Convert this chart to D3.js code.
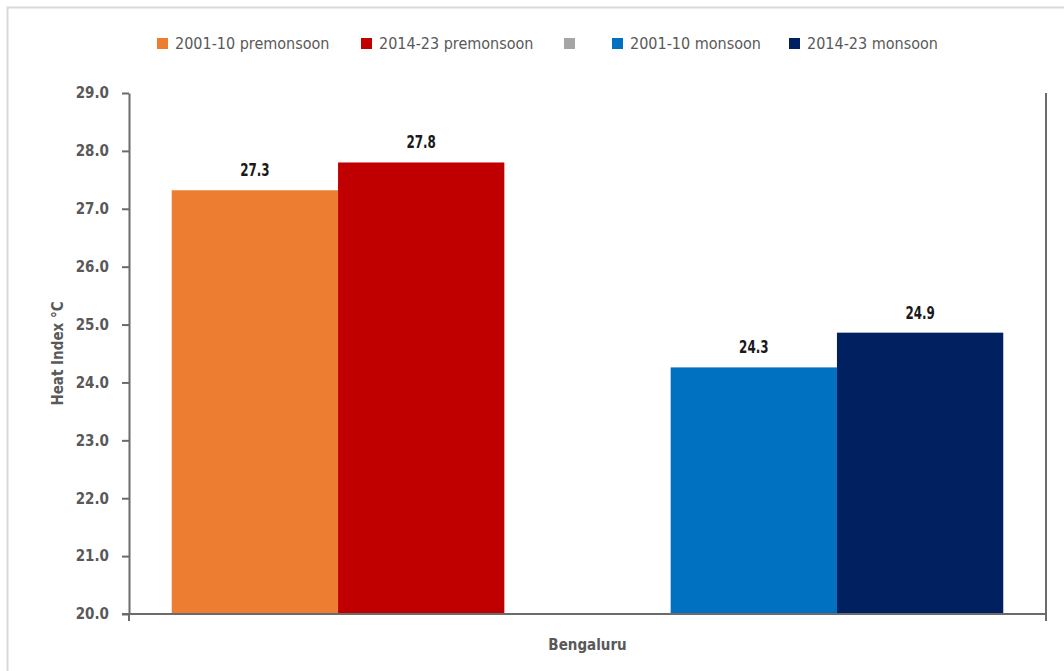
<!DOCTYPE html>
<html><head>
<meta charset="utf-8">
<script src="https://d3js.org/d3.v7.min.js"></script>
<style>
  body { margin: 0; background: #fff; }
  svg text { font-family: "DejaVu Sans Condensed", "Liberation Sans Narrow", "Roboto", sans-serif; }
  .axis .domain, .axis line { stroke: #6b6b6b; stroke-width: 2; }
  .axis text { fill: #595959; font-size: 15px; font-weight: bold; }
</style>
</head>
<body>
<svg id="chart" width="1064" height="671"></svg>
<script>
  // data
  const categories = ["Bengaluru"];
  const seriesNames = ["2001-10 premonsoon", "2014-23 premonsoon", "", "2001-10 monsoon", "2014-23 monsoon"];
  const seriesColors = ["#ed7d31", "#c00000", "#a5a5a5", "#0070c0", "#002060"];
  const seriesValues = [27.32, 27.8, null, 24.26, 24.86];
  const yTicks = [20, 21, 22, 23, 24, 25, 26, 27, 28, 29];

  const svg = d3.select("#chart");
  const margin = {top: 93, right: 18, bottom: 57, left: 129};
  const width = +svg.attr("width");
  const height = +svg.attr("height");
  const chartWidth = width - margin.left - margin.right;
  const chartHeight = height - margin.top - margin.bottom;

  // outer frame (right/bottom edges fall outside the picture)
  svg.append("rect")
    .attr("x", 7.5).attr("y", 7.5)
    .attr("width", width + 20).attr("height", height + 20)
    .attr("fill", "none").attr("stroke", "#d9d9d9").attr("stroke-width", 2);

  const yScale = d3.scaleLinear().domain([20, 29]).range([chartHeight, 0]);
  const catScale = d3.scaleBand().domain(categories).range([0, chartWidth]);
  const seriesScale = d3.scaleBand().domain(d3.range(seriesNames.length))
    .range([0, catScale.bandwidth()]).paddingInner(0).paddingOuter(0.257);

  const chartArea = svg.append("g")
    .attr("transform", "translate(" + margin.left + "," + margin.top + ")");

  // bars
  categories.forEach(c => {
    seriesValues.forEach((v, i) => {
      if (v === null) return;
      const cx = catScale(c) + seriesScale(i) + seriesScale.bandwidth() / 2;
      chartArea.append("rect")
        .attr("x", catScale(c) + seriesScale(i))
        .attr("y", yScale(v))
        .attr("width", seriesScale.bandwidth())
        .attr("height", yScale(20) - yScale(v))
        .attr("fill", seriesColors[i]);
      // condensed look: squeeze the label horizontally
      chartArea.append("text")
        .attr("transform", "translate(" + cx + "," + (yScale(v) - 14) + ") scale(0.78,1)")
        .attr("text-anchor", "middle")
        .attr("fill", "#1a1a1a")
        .attr("font-size", "17px")
        .attr("font-weight", "bold")
        .text(d3.format(".1f")(v));
    });
  });

  // y axis
  const leftAxis = d3.axisLeft(yScale).tickValues(yTicks)
    .tickFormat(d3.format(".1f")).tickSize(7).tickPadding(13).tickSizeOuter(0);
  chartArea.append("g").attr("class", "y axis").call(leftAxis);

  // x axis
  const bottomAxis = d3.axisBottom(catScale).tickSize(0).tickPadding(25).tickSizeOuter(0);
  const xAxis = chartArea.append("g").attr("class", "x axis")
    .attr("transform", "translate(0," + chartHeight + ")")
    .call(bottomAxis);
  xAxis.select(".domain").remove();
  xAxis.append("line")
    .attr("x1", -7).attr("x2", chartWidth)
    .attr("y1", 0).attr("y2", 0);
  catScale.range().forEach(x => {
    xAxis.append("line").attr("x1", x).attr("x2", x).attr("y1", 0).attr("y2", 7);
  });
  // right edge line
  chartArea.append("line").attr("class", "edge")
    .attr("x1", chartWidth).attr("x2", chartWidth)
    .attr("y1", 0).attr("y2", chartHeight + 7)
    .attr("stroke", "#6b6b6b").attr("stroke-width", 2);

  // y axis title
  svg.append("text")
    .attr("transform", "translate(63," + (margin.top + chartHeight / 2) + ") rotate(-90)")
    .attr("text-anchor", "middle")
    .attr("fill", "#595959")
    .attr("font-size", "15px")
    .attr("font-weight", "bold")
    .text("Heat Index °C");

  // legend
  const legendX = [157, 361, 564, 612, 789];
  const legend = svg.append("g").attr("class", "legend");
  seriesNames.forEach((name, i) => {
    const g = legend.append("g").attr("transform", "translate(" + legendX[i] + ",38)");
    g.append("rect").attr("width", 11).attr("height", 11).attr("fill", seriesColors[i]);
    g.append("text").attr("x", 18).attr("y", 11)
      .attr("fill", "#595959").attr("font-size", "16px")
      .text(name);
  });
</script>
</body>
</html>
